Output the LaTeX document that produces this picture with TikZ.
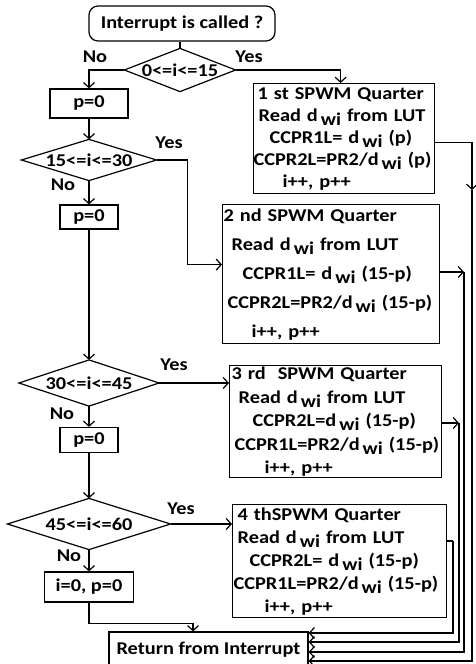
\documentclass[tikz,border=0pt]{standalone}
\usepackage{fontspec}
\setmainfont{Carlito}[FakeStretch=1.13]
\usepackage{tikz}
\usetikzlibrary{arrows.meta,positioning,calc,shapes.geometric}

\newcommand{\flowfont}{\bfseries\fontsize{18}{20}\selectfont}
\newcommand{\dwi}{d\,\raisebox{-0.5ex}{wi}}

\tikzset{
  flow/.style={line width=1.2pt},
  decision/.style={rectangle,inner sep=0pt,font=\flowfont,
    append after command={\pgfextra{\draw[flow] (\tikzlastnode.north) -- (\tikzlastnode.east)
      -- (\tikzlastnode.south) -- (\tikzlastnode.west) -- cycle;}}},
  process/.style={draw,flow,rectangle,inner sep=0pt,font=\flowfont},
  quarter/.style={draw,flow,rectangle,anchor=north west,align=left,inner sep=0pt},
  lab/.style={font=\flowfont}
}

\begin{document}
\begin{tikzpicture}[x=1pt,y=-1pt,>={Straight Barb[length=5pt,width=11pt]},flow]
  \useasboundingbox (0,0) rectangle (475,664);
  % start and left column
  \node[process,rounded corners=9pt,minimum width=186,minimum height=35] (start) at (182,23.5) {Interrupt is called ?};
  \node[decision,minimum width=110,minimum height=42] (d1) at (180,70) {0<=i<=15};
  \node[process,minimum width=78,minimum height=29] (p1) at (89,103.5) {p=0};
  \node[decision,minimum width=134,minimum height=40] (d2) at (89,160) {15<=i<=30};
  \node[process,minimum width=58,minimum height=24] (p2) at (89,217) {p=0};
  \node[decision,minimum width=139,minimum height=45] (d3) at (89,383) {30<=i<=45};
  \node[process,minimum width=58,minimum height=25] (p3) at (89,440) {p=0};
  \node[decision,minimum width=162,minimum height=50] (d4) at (89,524) {45<=i<=60};
  \node[process,minimum width=89,minimum height=30] (p4) at (89,587) {i=0, p=0};
  \node[process,minimum width=199,minimum height=36] (ret) at (208.5,650) {Return from Interrupt};
  % quarter boxes
  \node[quarter,text width=181,minimum height=110,font=\bfseries\fontsize{18}{22}\selectfont] (q1) at (253,83) {%
    \hspace*{4pt}1 st SPWM Quarter\\
    \hspace*{5pt}Read \dwi{} from LUT\\
    \hspace*{16pt}CCPR1L= \dwi{} (p)\\
    \hspace*{0pt}CCPR2L=PR2/\dwi{} (p)\\
    \hspace*{29pt}i++, p++};
  \node[quarter,text width=217,minimum height=139,font=\bfseries\fontsize{18}{29}\selectfont] (q2) at (222,204) {%
    \hspace*{1pt}2 nd SPWM Quarter\\
    \hspace*{9pt}Read \dwi{} from LUT\\
    \hspace*{20pt}CCPR1L= \dwi{} (15-p)\\
    \hspace*{5pt}CCPR2L=PR2/\dwi{} (15-p)\\
    \hspace*{29pt}i++, p++};
  \node[quarter,text width=212,minimum height=112,font=\bfseries\fontsize{18}{23.5}\selectfont] (q3) at (229,365) {%
    \hspace*{2pt}3 rd\ \ SPWM Quarter\\
    \hspace*{9pt}Read \dwi{} from LUT\\
    \hspace*{23pt}CCPR2L=\dwi{} (15-p)\\
    \hspace*{5pt}CCPR1L=PR2/\dwi{} (15-p)\\
    \hspace*{35pt}i++, p++};
  \node[quarter,text width=214,minimum height=113,font=\bfseries\fontsize{18}{23}\selectfont] (q4) at (232,504) {%
    \hspace*{5pt}4 thSPWM Quarter\\
    \hspace*{5pt}Read \dwi{} from LUT\\
    \hspace*{17pt}CCPR2L= \dwi{} (15-p)\\
    \hspace*{1pt}CCPR1L=PR2/\dwi{} (15-p)\\
    \hspace*{32pt}i++, p++};
  % yes / no
  \node[lab] (no1) at (95,57) {No};
  \node[lab] (yes1) at (249,57) {Yes};
  \node[lab] (yes2) at (169,143) {Yes};
  \node[lab] (no2) at (63,185) {No};
  \node[lab] (yes3) at (174,365) {Yes};
  \node[lab] (no3) at (62,414) {No};
  \node[lab] (yes4) at (181,509) {Yes};
  \node[lab] (no4) at (69,556) {No};
  % connectors
  \draw (d1.north |- start.south) -- (d1.north);
  \draw[->] (d1.west) -| (p1.north);
  \draw[->] (d1.east) -| ([xshift=-3.5pt]q1.north);
  \draw[->] (p1.south) -- (d2.north);
  \draw[->] (d2.east) -- ++(31,0) |- ([yshift=9.5pt]q2.west);
  \draw[->] (d2.south) -- (p2.north);
  \draw[->] (p2.south) -- (d3.north);
  \draw[->] (d3.east) -- (d3.east -| q3.west);
  \draw[->] (d3.south) -- (p3.north);
  \draw[->] (p3.south) -- (d4.north);
  \draw[->] (d4.east) -- (d4.east -| q4.west);
  \draw[->] (d4.south) -- (p4.north);
  \draw[->] (p4.south) -- ++(0,21) -| ([xshift=-15.5pt]ret.north);
  % back to return
  \coordinate (r1) at (472,190);
  \coordinate (r2) at (464,272);
  \coordinate (r3) at (459,423);
  \coordinate (r4) at (453,541);
  \draw[->] ([yshift=-4pt]q1.east) -| (r1);
  \draw[->] (q2.east |- r2) -- (r2);
  \draw[->] (q3.east |- r3) -- (r3);
  \draw (q4.east |- r4) -- (r4);
  \draw[->] (r1) |- ([yshift=-11pt]ret.east);
  \draw[->] (r2) |- ([yshift=-2pt]ret.east);
  \draw[->] (r3) |- ([yshift=8pt]ret.east);
  \draw[->] (r4) |- ([yshift=17pt]ret.east);
\end{tikzpicture}
\end{document}
